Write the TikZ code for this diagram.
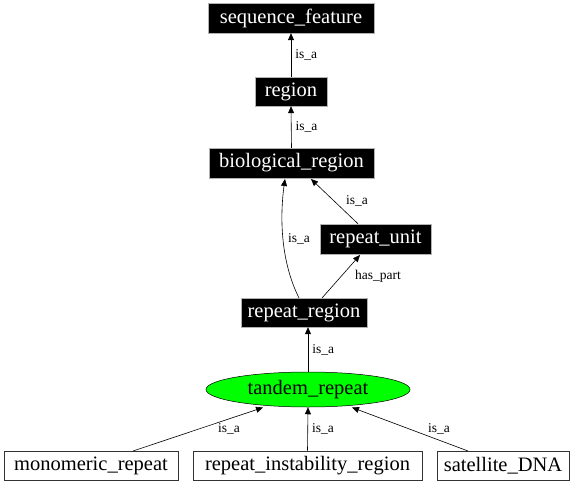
\documentclass[tikz,border=0pt]{standalone}
\usepackage{fontspec}
\setmainfont{Liberation Serif}
\usetikzlibrary{arrows.meta,shapes.geometric}
\begin{document}
\begin{tikzpicture}[x=1pt,y=-1pt,
  blk/.style={fill=black,text=white,draw=gray!60,line width=0.4pt,inner sep=0pt,font=\fontsize{20.5}{22}\selectfont},
  wht/.style={fill=white,draw=black!80,line width=0.6pt,inner sep=0pt,font=\fontsize{20.5}{22}\selectfont},
  grn/.style={ellipse,fill=green,draw=black,line width=0.5pt,inner sep=0pt,font=\fontsize{20.5}{22}\selectfont},
  rel/.style={draw=black,line width=0.6pt,-{Triangle[length=7pt,width=6pt]}},
  lbl/.style={font=\fontsize{13.5}{15}\selectfont,inner sep=1pt}]
\useasboundingbox (0,0) rectangle (576,485);
\node[blk,minimum width=166,minimum height=30] (sf) at (291,18) {sequence\_feature};
\node[blk,minimum width=72,minimum height=29] (reg) at (291,91.5) {region};
\node[blk,minimum width=165,minimum height=30] (br) at (291.5,163) {biological\_region};
\node[blk,minimum width=111,minimum height=30] (ru) at (375.5,239) {repeat\_unit};
\node[blk,minimum width=126,minimum height=29] (rr) at (304,312.5) {repeat\_region};
\node[grn,minimum width=204,minimum height=35] (tr) at (308,389.5) {tandem\_repeat};
\node[wht,minimum width=174,minimum height=29] (mr) at (91,465.5) {monomeric\_repeat};
\node[wht,minimum width=229,minimum height=29] (rir) at (307.5,465.5) {repeat\_instability\_region};
\node[wht,minimum width=132,minimum height=29] (sd) at (503,465.5) {satellite\_DNA};

\draw[rel] (reg.north) -- (sf.south) node[lbl,midway,right=3pt] {is\_a};
\draw[rel] (br.north) -- (reg.south) node[lbl,midway,right=3pt] {is\_a};
\draw[rel] (ru.north -| 358,0) -- (311,179);
\node[lbl] (l0) at (357,201) {is\_a};
\draw[rel] (299,298) .. controls (280,260) and (280,215) .. (285,179);
\node[lbl] (l4) at (299,239) {is\_a};
\draw[rel] (322,298) -- (360,255);
\node[lbl] (l5) at (378,276) {has\_part};
\draw[rel] (tr.north) -- (rr.south -| tr.north) node[lbl,midway,right=3pt] {is\_a};
\draw[rel] (133,451) -- (263,407.5);
\node[lbl] (l1) at (229,429) {is\_a};
\draw[rel] (rir.north) -- (tr.south);
\node[lbl] (l2) at (323,429) {is\_a};
\draw[rel] (468,451) -- (352,407.5);
\node[lbl] (l3) at (439,429) {is\_a};
\end{tikzpicture}
\end{document}
